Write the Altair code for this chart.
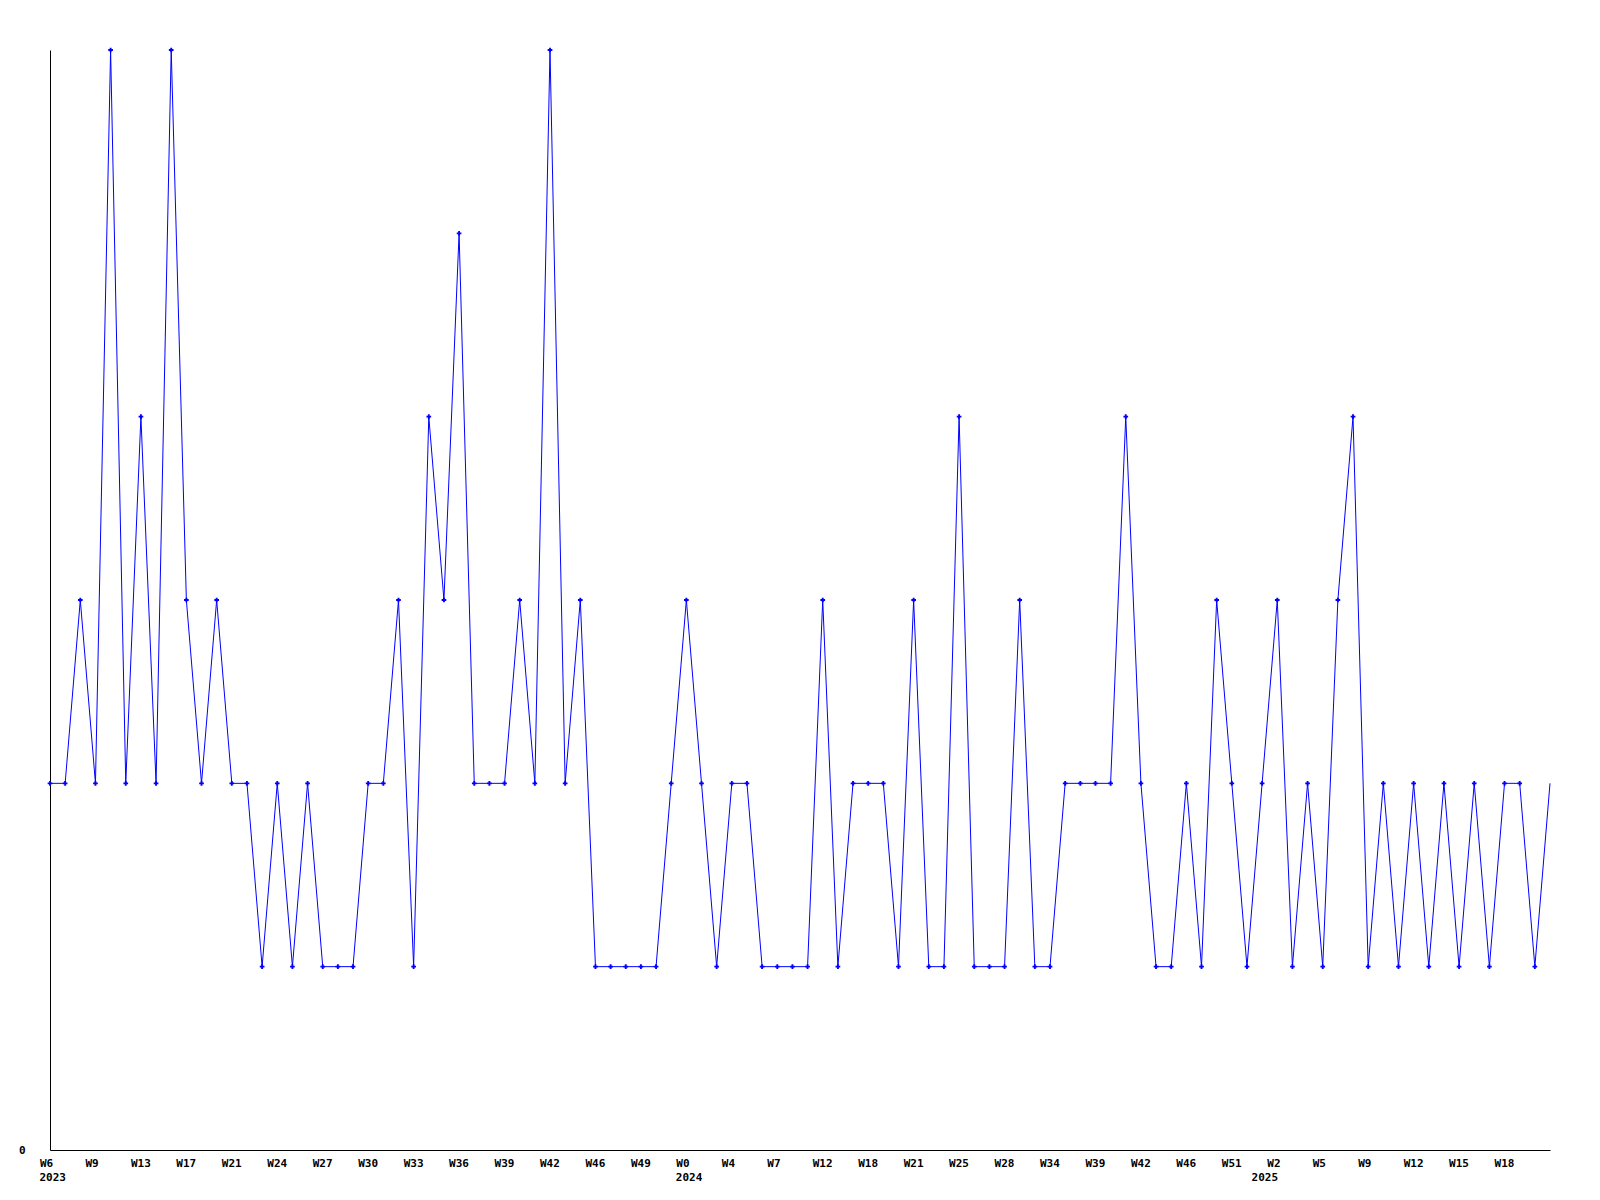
import altair as alt
import pandas as pd
import json

# Series values (one point per sample, 100 samples)
values = [2, 2, 3, 2, 6, 2, 4, 2, 6, 3,
          2, 3, 2, 2, 1, 2, 1, 2, 1, 1,
          1, 2, 2, 3, 1, 4, 3, 5, 2, 2,
          2, 3, 2, 6, 2, 3, 1, 1, 1, 1,
          1, 2, 3, 2, 1, 2, 2, 1, 1, 1,
          1, 3, 1, 2, 2, 2, 1, 3, 1, 1,
          4, 1, 1, 1, 3, 1, 1, 2, 2, 2,
          2, 4, 2, 1, 1, 2, 1, 3, 2, 1,
          2, 3, 1, 2, 1, 3, 4, 1, 2, 1,
          2, 1, 2, 1, 2, 1, 2, 2, 1, 2]

# Tick labels every third sample
week_labels = ["W6", "W9", "W13", "W17", "W21", "W24", "W27", "W30", "W33", "W36",
               "W39", "W42", "W46", "W49", "W0", "W4", "W7", "W12", "W18", "W21",
               "W25", "W28", "W34", "W39", "W42", "W46", "W51", "W2", "W5", "W9",
               "W12", "W15", "W18"]
tick_step = 3

years = ["2023", "2024", "2025"]
year_index = [0, 42, 80]

n = len(values)
df = pd.DataFrame({"i": list(range(n)), "v": values})
df["marker"] = [k < n - 1 for k in range(n)]
ydf = pd.DataFrame({"i": year_index, "year": years})

FONT = "DejaVu Sans Mono"
BLUE = "#0000ff"

xscale = alt.Scale(domain=[0, n - 1], nice=False, zero=False)
yscale = alt.Scale(domain=[0, 6], nice=False)

label_expr = json.dumps(week_labels) + "[round(datum.value / %d)]" % tick_step

x_axis = alt.Axis(
    values=list(range(0, len(week_labels) * tick_step, tick_step)),
    labelExpr=label_expr,
    title=None, grid=False, ticks=False,
    domainColor="black", domainWidth=1,
    labelFont=FONT, labelFontSize=11, labelFontWeight="bold", labelColor="black",
    labelAlign="left", labelBaseline="alphabetic", labelPadding=16,
    labelOffset=-10.5, labelOverlap=False, labelFlush=False,
)
y_axis = alt.Axis(
    values=[0], format="d", title=None, grid=False, ticks=False,
    domainColor="black", domainWidth=1,
    labelFont=FONT, labelFontSize=11, labelFontWeight="bold", labelColor="black",
    labelPadding=25, labelBaseline="middle",
)

base = alt.Chart(df)

line = base.mark_line(color=BLUE, strokeWidth=1).encode(
    x=alt.X("i:Q", scale=xscale, axis=x_axis),
    y=alt.Y("v:Q", scale=yscale, axis=y_axis),
)

points = base.transform_filter("datum.marker").mark_point(
    shape="cross", filled=True, size=22, color=BLUE, opacity=1
).encode(
    x=alt.X("i:Q", scale=xscale),
    y=alt.Y("v:Q", scale=yscale),
)

year_text = alt.Chart(ydf).mark_text(
    font=FONT, fontSize=11, fontWeight="bold", color="black",
    align="left", baseline="alphabetic", dx=-10.5
).encode(
    x=alt.X("i:Q", scale=xscale),
    y=alt.value(1131),
    text="year:N",
)

chart = alt.layer(line, points, year_text).properties(
    width=1500, height=1100,
    background="white",
    autosize=alt.AutoSizeParams(type="none"),
    padding={"left": 42, "top": 42, "right": 40, "bottom": 50},
).configure_view(stroke=None, strokeWidth=0)

chart.save("out.html", embed_options={"renderer": "svg", "actions": False})
